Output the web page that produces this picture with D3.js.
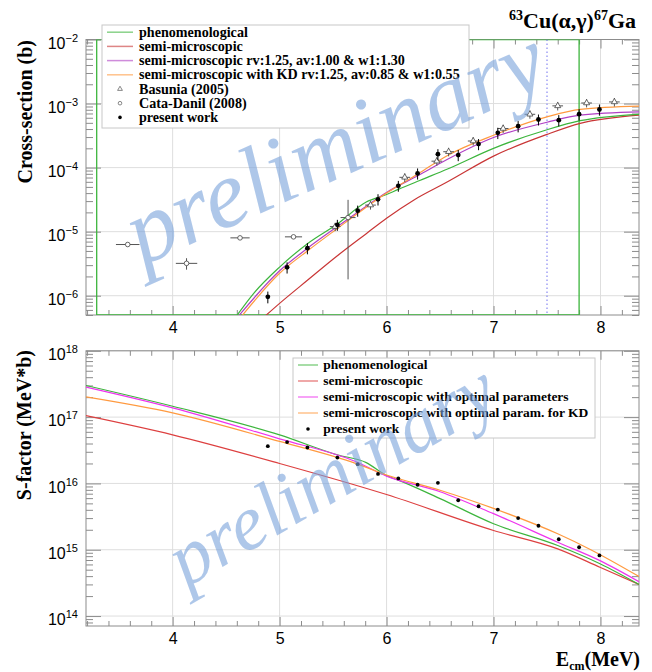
<!DOCTYPE html>
<html>
<head>
<meta charset="utf-8">
<script src="https://cdn.jsdelivr.net/npm/d3@7"></script>
<style>
  body { margin: 0; background: #fff; }
  svg { display: block; }
</style>
</head>
<body>
<div id="chart"></div>
<script>
// ---- data ----
const eTicks = [4, 5, 6, 7, 8];

// present work: E_cm (MeV), cross-section (b), error (b), S-factor (MeV*b)
const presentE = [4.89, 5.07, 5.26, 5.54, 5.73, 5.92, 6.11, 6.29, 6.48, 6.67, 6.86, 7.04, 7.23, 7.42, 7.61, 7.80, 7.99];
const presentXs = [9.6e-7, 2.77e-6, 5.53e-6, 1.28e-5, 2.13e-5, 3.2e-5, 5.2e-5, 8.1e-5, 1.62e-4, 1.57e-4, 2.33e-4, 3.49e-4, 4.44e-4, 5.64e-4, 5.5e-4, 6.82e-4, 8.07e-4];
const presentXsErr = [2.0e-7, 5.5e-7, 1.1e-6, 2.5e-6, 4.2e-6, 6.4e-6, 1.0e-5, 1.6e-5, 3.2e-5, 3.1e-5, 4.6e-5, 7.0e-5, 8.9e-5, 1.1e-4, 1.1e-4, 1.4e-4, 1.6e-4];
const presentS = [3.65e16, 4.2e16, 3.48e16, 2.45e16, 1.95e16, 1.39e16, 1.19e16, 9.55e15, 1.02e16, 5.58e15, 4.53e15, 4.03e15, 3.0e15, 2.3e15, 1.44e15, 1.09e15, 8.2e14];

// Basunia (2005)
const basuniaE = [5.52, 5.85, 6.17, 6.47, 6.58, 6.81, 7.09, 7.34, 7.60, 7.87, 8.13];
const basuniaEErr = [0.05, 0.05, 0.05, 0.05, 0.05, 0.05, 0.05, 0.05, 0.05, 0.05, 0.05];
const basuniaXs = [1.2e-5, 2.6e-5, 7.05e-5, 1.26e-4, 1.77e-4, 2.6e-4, 4.08e-4, 6.8e-4, 9.2e-4, 1.02e-3, 1.06e-3];
const basuniaXsErr = [1.8e-6, 3.9e-6, 1.1e-5, 1.9e-5, 2.7e-5, 3.9e-5, 6.1e-5, 1.0e-4, 1.4e-4, 1.5e-4, 1.6e-4];

// Cata-Danil (2008)
const cataE = [3.58, 4.13, 4.63, 5.13, 5.64];
const cataEErr = [0.11, 0.10, 0.09, 0.08, 0.07];
const cataXs = [6.3e-6, 3.2e-6, 8.0e-6, 8.3e-6, 1.66e-5];
const cataXsErr = [3.0e-7, 6.5e-7, 4.0e-7, 4.0e-7, 1.48e-5];

// cross-section curves
const phenoXsE = [4.60, 4.76, 5.00, 5.26, 5.54, 5.81, 6.00, 6.11, 6.31, 6.57, 7.00, 7.50, 7.81, 8.36];
const phenoXs = [4.9e-7, 1.1e-6, 2.8e-6, 6.5e-6, 1.32e-5, 2.9e-5, 3.8e-5, 4.57e-5, 6.3e-5, 9.5e-5, 2.0e-4, 3.9e-4, 5.4e-4, 6.8e-4];
const semiXsE = [4.87, 5.00, 5.26, 5.54, 5.81, 6.00, 6.26, 6.57, 7.00, 7.50, 7.81, 8.36];
const semiXs = [4.9e-7, 7.6e-7, 1.74e-6, 4.2e-6, 9.3e-6, 1.62e-5, 3.16e-5, 6.0e-5, 1.51e-4, 3.3e-4, 4.9e-4, 6.6e-4];
const optXsE = [4.62, 5.00, 5.26, 5.54, 5.81, 6.00, 6.30, 6.57, 7.00, 7.50, 7.81, 8.36];
const optXs = [4.9e-7, 2.45e-6, 5.5e-6, 1.2e-5, 2.5e-5, 4.1e-5, 7.6e-5, 1.35e-4, 2.95e-4, 5.1e-4, 6.6e-4, 7.4e-4];
const kdXsE = [4.65, 5.00, 5.26, 5.54, 5.81, 6.00, 6.30, 6.57, 7.00, 7.50, 7.81, 8.36];
const kdXs = [4.9e-7, 2.24e-6, 5.0e-6, 1.12e-5, 2.4e-5, 4.0e-5, 8.1e-5, 1.55e-4, 3.2e-4, 6.2e-4, 8.1e-4, 9.1e-4];

// S-factor curves
const phenoSE = [3.19, 4.00, 5.00, 5.54, 5.81, 6.00, 6.11, 6.50, 7.00, 7.60, 8.00, 8.36];
const phenoS = [3.0e17, 1.46e17, 5.4e16, 2.7e16, 2.06e16, 1.31e16, 1.12e16, 5.9e15, 2.47e15, 1.16e15, 6.1e14, 3.0e14];
const semiSE = [3.19, 4.00, 5.00, 6.00, 7.00, 7.60, 8.00, 8.36];
const semiS = [1.05e17, 5.4e16, 2.0e16, 6.8e15, 1.95e15, 1.03e15, 5.4e14, 3.0e14];
const optSE = [3.19, 4.00, 5.00, 5.71, 6.00, 6.50, 7.00, 7.60, 8.00, 8.36];
const optS = [2.84e17, 1.38e17, 4.7e16, 2.14e16, 1.29e16, 7.5e15, 3.5e15, 1.3e15, 6.8e14, 3.3e14];
const kdSE = [3.19, 4.00, 5.00, 5.71, 6.00, 6.50, 7.00, 7.60, 7.90, 8.36];
const kdS = [2.02e17, 1.16e17, 4.3e16, 2.01e16, 1.34e16, 7.9e15, 4.2e15, 1.74e15, 1.02e15, 3.95e14];

// fit window and threshold marker in the upper pad
const windowE = [3.29, 7.80];
const thresholdE = 7.5;

const topLegend = ["phenomenological", "semi-microscopic", "semi-microscopic rv:1.25, av:1.00 & w1:1.30",
  "semi-microscopic with KD rv:1.25, av:0.85 & w1:0.55", "Basunia (2005)", "Cata-Danil (2008)", "present work"];
const botLegend = ["phenomenological", "semi-microscopic", "semi-microscopic with optimal parameters",
  "semi-microscopic with optimal param. for KD", "present work"];

// ---- layout ----
const width = 652, height = 672;
const left = 86, right = 639;
const green = "#3db53d", red = "#c93636", redB = "#dd4040", purple = "#b040c4", magenta = "#ee33ee", orange = "#ff9a40";
const frameColor = "#8c8c8c", gridColor = "#dedede";
const serif = "'Liberation Serif', 'Times New Roman', serif";
const sans = "'Liberation Sans', Arial, sans-serif";

const svg = d3.select("#chart").append("svg")
  .attr("width", width).attr("height", height)
  .attr("viewBox", [0, 0, width, height]);

const x = d3.scaleLinear().domain([3.19, 8.36]).range([left, right]);
const yTop = d3.scaleLog().domain([5e-7, 1e-2]).range([315, 39.5]);
const yBot = d3.scaleLog().domain([Math.pow(10, 13.85), 1e18]).range([626, 350.8]);

const zip = (a, b) => a.map((v, i) => [v, b[i]]);

function pad(y, id) {
  const [bottom, top] = y.range();
  const decades = y.ticks().filter(d => Math.abs(Math.log10(d) - Math.round(Math.log10(d))) < 1e-6);
  const minorY = y.ticks().filter(d => !decades.includes(d));
  const minorE = d3.range(3.2, 8.35, 0.2).filter(d => Math.abs(d - Math.round(d)) > 0.05);

  svg.append("defs").append("clipPath").attr("id", id)
    .append("rect").attr("x", left).attr("y", top).attr("width", right - left).attr("height", bottom - top);

  // grid
  svg.append("g").attr("stroke", gridColor)
    .call(g => g.selectAll(".gx").data(eTicks).join("line")
      .attr("x1", d => x(d)).attr("x2", d => x(d)).attr("y1", top).attr("y2", bottom))
    .call(g => g.selectAll(".gy").data(decades).join("line")
      .attr("x1", left).attr("x2", right).attr("y1", d => y(d)).attr("y2", d => y(d)));

  const tidy = g => g.call(g => g.select(".domain").remove())
    .call(g => g.selectAll(".tick line").attr("stroke", frameColor));

  // x ticks, bottom and top
  svg.append("g").attr("transform", `translate(0,${bottom})`)
    .call(d3.axisBottom(x).tickValues(eTicks).tickSize(-9).tickPadding(7).tickFormat(d3.format("d")))
    .call(tidy)
    .call(g => g.selectAll("text").attr("font-family", sans).attr("font-size", 16).attr("fill", "#000"));
  svg.append("g").attr("transform", `translate(0,${bottom})`)
    .call(d3.axisBottom(x).tickValues(minorE).tickSize(-5).tickFormat("")).call(tidy);
  svg.append("g").attr("transform", `translate(0,${top})`)
    .call(d3.axisTop(x).tickValues(eTicks).tickSize(-9).tickFormat("")).call(tidy);
  svg.append("g").attr("transform", `translate(0,${top})`)
    .call(d3.axisTop(x).tickValues(minorE).tickSize(-5).tickFormat("")).call(tidy);

  // y ticks, left and right
  svg.append("g").attr("transform", `translate(${left},0)`)
    .call(d3.axisLeft(y).tickValues(decades).tickSize(-15).tickPadding(8))
    .call(tidy)
    .call(g => g.selectAll(".tick text").text(null)
      .attr("font-family", sans).attr("font-size", 16).attr("fill", "#000").attr("dy", "0.55em")
      .call(t => t.append("tspan").text("10"))
      .call(t => t.append("tspan").attr("dy", -7).attr("font-size", 11)
        .text(d => String(Math.round(Math.log10(d))).replace("-", "\u2212"))));
  svg.append("g").attr("transform", `translate(${left},0)`)
    .call(d3.axisLeft(y).tickValues(minorY).tickSize(-7).tickFormat("")).call(tidy);
  svg.append("g").attr("transform", `translate(${right},0)`)
    .call(d3.axisRight(y).tickValues(decades).tickSize(-15).tickFormat("")).call(tidy);
  svg.append("g").attr("transform", `translate(${right},0)`)
    .call(d3.axisRight(y).tickValues(minorY).tickSize(-7).tickFormat("")).call(tidy);

  // frame
  svg.append("rect").attr("x", left).attr("y", top).attr("width", right - left).attr("height", bottom - top)
    .attr("fill", "none").attr("stroke", frameColor);

  return svg.append("g").attr("clip-path", `url(#${id})`);
}

function curve(g, y, pts, color) {
  const line = d3.line().curve(d3.curveMonotoneX).x(d => x(d[0])).y(d => y(d[1]));
  g.append("path").datum(pts).attr("d", line)
    .attr("fill", "none").attr("stroke", color).attr("stroke-width", 1.2);
}

function errorBars(g, y, E, v, vErr, eErr, color) {
  const eb = g.append("g").attr("stroke", color).attr("stroke-width", 1);
  eb.selectAll(".v").data(E).join("line")
    .attr("x1", d => x(d)).attr("x2", d => x(d))
    .attr("y1", (d, i) => y(Math.max(v[i] - vErr[i], 1e-9))).attr("y2", (d, i) => y(v[i] + vErr[i]));
  if (eErr) eb.selectAll(".h").data(E).join("line")
    .attr("x1", (d, i) => x(d - eErr[i])).attr("x2", (d, i) => x(d + eErr[i]))
    .attr("y1", (d, i) => y(v[i])).attr("y2", (d, i) => y(v[i]));
}

const triangle = d3.symbol().type(d3.symbolTriangle).size(16);

function watermark(tx, ty, angle, size) {
  svg.append("text").attr("transform", `translate(${tx},${ty}) rotate(${angle})`)
    .attr("font-family", serif).attr("font-style", "italic").attr("font-size", size)
    .attr("fill", "#7aa3dc").attr("opacity", 0.6).text("preliminary");
}

// ---- upper pad: cross-section ----
const gt = pad(yTop, "clipTop");

gt.append("path")
  .attr("d", `M${x(windowE[0])},${yTop(5e-7)}V${yTop(1e-2)}H${x(windowE[1])}V${yTop(5e-7)}Z`)
  .attr("fill", "none").attr("stroke", green).attr("stroke-width", 1.3);
gt.append("line").attr("x1", x(thresholdE)).attr("x2", x(thresholdE))
  .attr("y1", yTop(1e-2)).attr("y2", yTop(5e-7))
  .attr("stroke", "#7070f0").attr("stroke-dasharray", "1.5,2.5");

curve(gt, yTop, zip(semiXsE, semiXs), red);
curve(gt, yTop, zip(phenoXsE, phenoXs), green);
curve(gt, yTop, zip(optXsE, optXs), purple);
curve(gt, yTop, zip(kdXsE, kdXs), orange);

errorBars(gt, yTop, cataE, cataXs, cataXsErr, cataEErr, "#555");
gt.append("g").selectAll("circle").data(cataE).join("circle")
  .attr("cx", d => x(d)).attr("cy", (d, i) => yTop(cataXs[i])).attr("r", 2.3)
  .attr("fill", "#fff").attr("stroke", "#444").attr("stroke-width", 0.8);

errorBars(gt, yTop, basuniaE, basuniaXs, basuniaXsErr, basuniaEErr, "#555");
gt.append("g").selectAll("path").data(basuniaE).join("path")
  .attr("d", triangle).attr("transform", (d, i) => `translate(${x(d)},${yTop(basuniaXs[i])})`)
  .attr("fill", "#fff").attr("stroke", "#444").attr("stroke-width", 0.8);

errorBars(gt, yTop, presentE, presentXs, presentXsErr, null, "#000");
gt.append("g").selectAll("circle").data(presentE).join("circle")
  .attr("cx", d => x(d)).attr("cy", (d, i) => yTop(presentXs[i])).attr("r", 2.4).attr("fill", "#000");

// ---- lower pad: S-factor ----
const gb = pad(yBot, "clipBot");
curve(gb, yBot, zip(semiSE, semiS), redB);
curve(gb, yBot, zip(phenoSE, phenoS), green);
curve(gb, yBot, zip(optSE, optS), magenta);
curve(gb, yBot, zip(kdSE, kdS), orange);
gb.append("g").selectAll("circle").data(presentE).join("circle")
  .attr("cx", d => x(d)).attr("cy", (d, i) => yBot(presentS[i])).attr("r", 1.9).attr("fill", "#000");

// ---- legends ----
function legend(box, labels, kinds, colors, rowY, rowH, lineX, textX, fs) {
  svg.append("rect").attr("x", box[0]).attr("y", box[1]).attr("width", box[2]).attr("height", box[3])
    .attr("fill", "#fff").attr("stroke", "#c8c8c8");
  const row = svg.append("g").selectAll("g").data(labels).join("g")
    .attr("transform", (d, i) => `translate(0,${rowY + i * rowH})`);
  const cx = (lineX[0] + lineX[1]) / 2;
  row.each(function (d, i) {
    const r = d3.select(this);
    if (kinds[i] === "line") r.append("line").attr("x1", lineX[0]).attr("x2", lineX[1])
      .attr("stroke", colors[i]).attr("stroke-width", 1.5).attr("opacity", 0.6);
    if (kinds[i] === "tri") r.append("path").attr("d", d3.symbol().type(d3.symbolTriangle).size(10))
      .attr("transform", `translate(${cx},0)`)
      .attr("fill", "none").attr("stroke", "#555").attr("stroke-width", 0.7);
    if (kinds[i] === "circ") r.append("circle").attr("cx", cx).attr("r", 1.8)
      .attr("fill", "none").attr("stroke", "#555").attr("stroke-width", 0.7);
    if (kinds[i] === "dot") r.append("circle").attr("cx", cx).attr("r", 1.8).attr("fill", "#000");
  });
  row.append("text").attr("x", textX).attr("y", fs * 0.33)
    .attr("font-family", serif).attr("font-weight", "bold").attr("font-size", fs).text(d => d);
}

legend([102, 25, 367, 103], topLegend,
  ["line", "line", "line", "line", "tri", "circ", "dot"],
  [green, red, purple, orange, null, null, null],
  32.2, 14.2, [107, 133], 139, 14.1);
legend([293, 358, 302, 80], botLegend,
  ["line", "line", "line", "line", "dot"],
  [green, redB, magenta, orange, null],
  365, 16, [298, 318], 323.3, 13.5);

watermark(142, 266, -24, 96);
watermark(186, 588, -30, 78);

// ---- titles ----
const title = svg.append("text").attr("x", 636).attr("y", 28).attr("text-anchor", "end")
  .attr("font-family", serif).attr("font-weight", "bold").attr("font-size", 22);
title.append("tspan").attr("font-size", 14).attr("dy", -8).text("63");
title.append("tspan").attr("dy", 8).text("Cu(\u03b1,\u03b3)");
title.append("tspan").attr("font-size", 14).attr("dy", -8).text("67");
title.append("tspan").attr("dy", 8).text("Ga");

svg.append("text").attr("transform", "translate(32,40) rotate(-90)").attr("text-anchor", "end")
  .attr("font-family", serif).attr("font-weight", "bold").attr("font-size", 20).text("Cross-section (b)");
svg.append("text").attr("transform", "translate(31,350) rotate(-90)").attr("text-anchor", "end")
  .attr("font-family", serif).attr("font-weight", "bold").attr("font-size", 20).text("S-factor (MeV*b)");

const xt = svg.append("text").attr("x", 640).attr("y", 666).attr("text-anchor", "end")
  .attr("font-family", serif).attr("font-weight", "bold").attr("font-size", 20);
xt.append("tspan").text("E");
xt.append("tspan").attr("font-size", 12).attr("dy", 4).text("cm");
xt.append("tspan").attr("dy", -4).text("(MeV)");
</script>
</body>
</html>
